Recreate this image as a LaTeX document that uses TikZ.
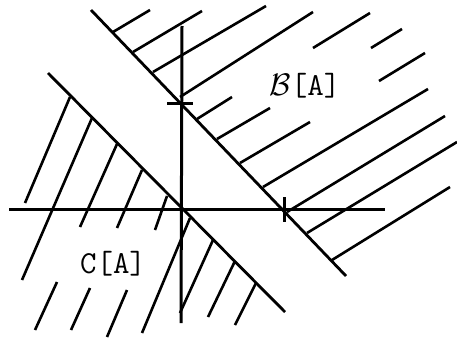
\documentclass[tikz,border=0pt]{standalone}
\usepackage{fontspec}
\begin{document}
\begin{tikzpicture}[x=1pt,y=-1pt,
  hatch/.style={line width=2.6pt},
  axis/.style={line width=3pt},
  bound/.style={line width=2.8pt},
  lab/.style={inner sep=0pt,font=\ttfamily\fontsize{32}{32}\selectfont\addfontfeatures{FakeBold=0.6}}]
\useasboundingbox (0,0) rectangle (457,340);
% axes
\coordinate (xl) at (9,209); \coordinate (xr) at (385,209);
\coordinate (yt) at (182,26); \coordinate (yb) at (181,323);
\draw[axis] (xl) -- (xr);
\draw[axis] (yt) -- (yb);
% ticks
\coordinate (t1a) at (167,103); \coordinate (t1b) at (193,103);
\coordinate (t2a) at (284,197); \coordinate (t2b) at (284,222);
\draw[axis] (t1a) -- (t1b);
\draw[axis] (t2a) -- (t2b);
% boundaries
\coordinate (ba) at (91,10); \coordinate (bb) at (346,276);
\coordinate (ca) at (48,73); \coordinate (cb) at (285,312);
\draw[bound] (ba) -- (bb);
\draw[bound] (ca) -- (cb);
% hatching of B[A]
\foreach \a/\b in {{(113,32)}/{(150,10)},{(133,52)}/{(202,11)},{(153,72)}/{(266,6)},
  {(180,97)}/{(313,12)},{(197,119)}/{(232,97)},{(313,48)}/{(370,13)},
  {(217,139)}/{(270,108)},{(371,48)}/{(402,29)},{(240,163)}/{(310,122)},
  {(379,81)}/{(425,53)},{(263,187)}/{(428,89)},{(287,212)}/{(445,116)},
  {(307,233)}/{(457,142)},{(332,260)}/{(450,187)}}
  \draw[hatch] \a -- \b;
% hatching of C[A]
\foreach \a/\b in {{(70,97)}/{(25,203)},{(92,118)}/{(22,280)},{(117,144)}/{(80,227)},
  {(57,282)}/{(35,330)},{(142,170)}/{(117,228)},{(90,288)}/{(71,330)},
  {(167,196)}/{(155,230)},{(127,290)}/{(107,337)},{(190,218)}/{(142,333)},
  {(213,240)}/{(180,313)},{(235,261)}/{(208,317)},{(256,283)}/{(235,325)}}
  \draw[hatch] \a -- \b;
% labels
\node[lab] (B) at (305,86) {\scalebox{1.25}{\fontsize{24.88}{25}\selectfont$\mathcal{B}$}[A]};
\node[lab] (C) at (113,264) {C[A]};
\end{tikzpicture}
\end{document}
